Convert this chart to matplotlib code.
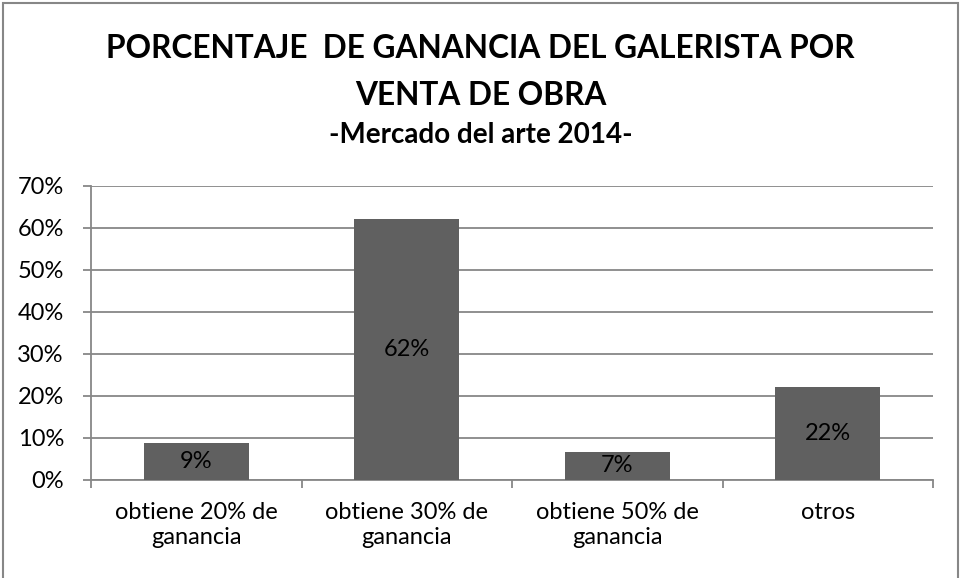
import matplotlib
matplotlib.use("Agg")
import matplotlib.pyplot as plt
from matplotlib.patches import Rectangle
from matplotlib.ticker import MultipleLocator, PercentFormatter

# data
categories = ["obtiene 20% de\nganancia", "obtiene 30% de\nganancia",
              "obtiene 50% de\nganancia", "otros"]
values = [0.088, 0.622, 0.067, 0.222]
value_labels = ["9%", "62%", "7%", "22%"]

title_lines = ["PORCENTAJE  DE GANANCIA DEL GALERISTA POR", "VENTA DE OBRA"]
subtitle = "-Mercado del arte 2014-"

grid_color = "#878787"
bar_color = "#606060"
W, H = 961, 578

plt.rcParams["font.family"] = ["Lato", "DejaVu Sans"]

fig = plt.figure(figsize=(W / 100, H / 100), dpi=100)
ax = fig.add_axes([91 / W, 1 - 480 / H, (933 - 91) / W, (480 - 186) / H])

x = list(range(len(categories)))
ax.bar(x, values, width=0.5, color=bar_color, zorder=3)
for xi, v, lab in zip(x, values, value_labels):
    ax.text(xi, v / 2, lab, ha="center", va="center", fontsize=17, color="black", zorder=4)

ax.set_xlim(-0.5, len(categories) - 0.5)
ax.set_ylim(0, 0.70)
ax.yaxis.set_major_locator(MultipleLocator(0.10))
ax.yaxis.set_major_formatter(PercentFormatter(1.0, decimals=0))
ax.grid(axis="y", color=grid_color, linewidth=1.3, zorder=0)

# category ticks at the boundaries, labels at the centres
ax.set_xticks([i - 0.5 for i in range(len(categories) + 1)])
ax.set_xticklabels([])
ax.set_xticks(x, minor=True)
ax.set_xticklabels(categories, minor=True, fontsize=17, linespacing=1.27)
ax.tick_params(axis="x", which="minor", length=0, pad=15.5)
ax.tick_params(axis="x", which="major", length=6, width=1.3, color=grid_color)
ax.tick_params(axis="y", length=6, width=1.3, color=grid_color, labelsize=17, pad=13.5)

for side in ["top", "right"]:
    ax.spines[side].set_visible(False)
for side in ["left", "bottom"]:
    ax.spines[side].set_color(grid_color)
    ax.spines[side].set_linewidth(1.3)

# title lines placed by baseline
fig.text(0.5, 1 - 58 / H, title_lines[0], ha="center", va="baseline",
         fontsize=22.8, fontweight="bold")
fig.text(0.5, 1 - 105 / H, title_lines[1], ha="center", va="baseline",
         fontsize=22.8, fontweight="bold")
fig.text(0.5, 1 - 143 / H, subtitle, ha="center", va="baseline", fontsize=20,
         fontweight="bold")

# outer chart border (bottom edge falls outside the picture)
fig.patches.append(Rectangle((3 / W, -0.05), 955 / W, 1.05 - 3 / H,
                             transform=fig.transFigure, fill=False,
                             edgecolor=grid_color, linewidth=1.5))

fig.savefig("out.png", dpi=100)
